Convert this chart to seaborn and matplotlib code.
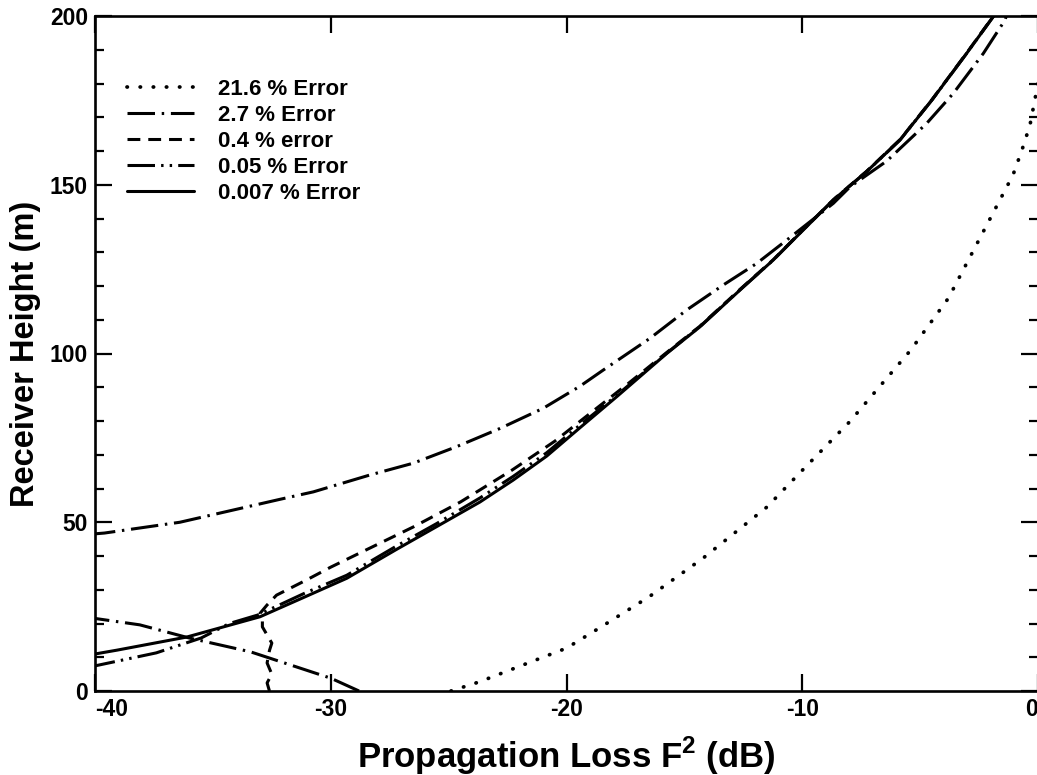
import matplotlib
matplotlib.use("Agg")
import matplotlib.pyplot as plt
import seaborn as sns
import pandas as pd

# ---------------- data ----------------
labels = ["21.6 % Error", "2.7 % Error", "0.4 % error", "0.05 % Error", "0.007 % Error"]

err216_x = [-24.9, -23.7, -21.85, -20.0, -18.6, -16.5, -14.2, -11.5, -9.9, -8.0, -5.4, -3.8, -1.06, -0.68, -0.34, 0.0]
err216_y = [0.0, 2.7, 7.7, 12.7, 18.7, 27.9, 39.4, 54.5, 66.1, 79.7, 101.0, 116.4, 152.9, 160.3, 167.7, 180.0]

err27_low_x = [-28.8, -30.0, -31.7, -33.4, -36.0, -38.1, -40.3]
err27_low_y = [0.0, 3.8, 7.7, 11.6, 15.7, 19.6, 21.8]
err27_x = [-40.3, -39.6, -36.4, -32.15, -30.74, -28.34, -26.5, -24.66, -22.82, -20.98, -19.43, -18.44,
           -16.46, -14.9, -13.35, -11.93, -10.66, -8.68, -7.97, -6.42, -4.72, -3.59, -2.32, -1.40, -1.3]
err27_y = [46.4, 46.8, 50.0, 56.8, 59.0, 64.0, 67.5, 72.4, 77.8, 83.8, 90.3, 95.1,
           104.5, 112.9, 120.3, 126.7, 133.6, 144.5, 149.4, 157.0, 168.2, 177.1, 188.9, 198.8, 201.0]

err0007_x = [-40.3, -39.07, -36.1, -33.0, -31.09, -29.32, -27.2, -25.51, -23.67, -22.26, -20.84, -19.43,
             -17.87, -15.75, -14.34, -12.64, -11.23, -10.1, -8.68, -7.27, -5.85, -4.5, -3.03, -1.9, -1.8]
err0007_y = [10.6, 12.1, 16.0, 22.0, 27.9, 33.4, 42.0, 48.7, 56.0, 62.5, 69.6, 78.0,
             87.2, 100.0, 107.9, 118.8, 127.7, 135.6, 145.5, 153.9, 163.3, 175.1, 188.9, 199.8, 201.0]

err04_x = [-32.6, -32.7, -32.5, -32.7, -32.6, -32.5, -32.9, -32.9, -33.0, -32.7, -32.3, -31.0, -30.0, -28.5,
           -26.5, -24.5, -22.3, -20.5, -18.7, -17.4, -15.75, -14.34, -12.64, -11.23, -10.1, -8.68, -7.27,
           -5.85, -4.5, -3.03, -1.9, -1.8]
err04_y = [0.0, 2.4, 5.0, 8.3, 12.0, 14.2, 19.0, 21.0, 23.0, 25.5, 28.4, 33.0, 36.7, 41.8,
           48.6, 56.0, 65.5, 74.0, 83.9, 91.0, 100.3, 108.1, 119.0, 127.8, 135.7, 145.6, 154.0,
           163.4, 175.2, 189.0, 199.9, 201.0]

err005_x = [-40.3, -37.4, -35.5, -34.3, -33.1, -31.1, -29.32, -27.2, -25.51, -23.67, -22.26, -20.84, -19.43,
            -17.87, -15.75, -14.34, -12.64, -11.23, -10.1, -8.68, -7.27, -5.85, -4.5, -3.03, -1.9, -1.8]
err005_y = [7.0, 11.3, 15.7, 20.0, 22.5, 29.0, 34.3, 43.0, 49.6, 57.2, 63.6, 70.6, 78.8,
            87.6, 100.1, 108.0, 118.9, 127.7, 135.7, 145.5, 153.9, 163.3, 175.1, 188.9, 199.8, 201.0]

x_ticks = [-40, -30, -20, -10, 0]
x_ticklabels = ["-40", "-30", "-20", "-10", "0"]
y_ticks = [0, 50, 100, 150, 200]
y_ticklabels = ["0", "50", "100", "150", "200"]

# ---------------- styling ----------------
sns.set_theme(style="ticks")
plt.rcParams["font.family"] = ["Liberation Sans", "DejaVu Sans"]
plt.rcParams["font.weight"] = "bold"
plt.rcParams["text.color"] = "black"
plt.rcParams["axes.labelcolor"] = "black"
plt.rcParams["xtick.color"] = "black"
plt.rcParams["ytick.color"] = "black"
plt.rcParams["mathtext.fontset"] = "custom"
plt.rcParams["mathtext.rm"] = "Liberation Sans:bold"
plt.rcParams["mathtext.bf"] = "Liberation Sans:bold"

fig = plt.figure(figsize=(10.37, 7.75), dpi=100)
W, H = 1037.0, 775.0
ax = fig.add_axes([95 / W, (H - 691) / H, (1038 - 95) / W, (691 - 16) / H])

styles = [
    (0, (0.1, 3.4)),          # dotted
    (0, (9, 2.2, 0.8, 2.2)),  # long dash - dot
    (0, (4.2, 2.6)),          # dashed
    (0, (9, 2.0, 0.8, 2.0, 0.8, 2.0)),  # dash-dot-dot
    "-",
]

series = [
    [(err216_x, err216_y)],
    [(err27_low_x, err27_low_y), (err27_x, err27_y)],
    [(err04_x, err04_y)],
    [(err005_x, err005_y)],
    [(err0007_x, err0007_y)],
]

handles = []
for lab, segs, ls in zip(labels, series, styles):
    for i, (xs, ys) in enumerate(segs):
        df = pd.DataFrame({"x": xs, "y": ys})
        n_before = len(ax.get_lines())
        sns.lineplot(data=df, x="x", y="y", orient="y", estimator=None, sort=True,
                     color="black", linewidth=2.2, ax=ax, legend=False)
        line = ax.get_lines()[n_before]
        line.set_linestyle(ls)
        line.set_solid_joinstyle("round")
        if ls == styles[0]:
            line.set_dash_capstyle("round")
            line.set_linewidth(2.7)
        else:
            line.set_dash_capstyle("butt")
        if i == 0:
            line.set_label(lab)
            handles.append(line)

ax.set_xlim(-40, 0)
ax.set_ylim(0, 200)
ax.set_xticks(x_ticks)
xt = ax.set_xticklabels(x_ticklabels, fontsize=16.5, fontweight="bold")
xt[0].set_horizontalalignment("left")
xt[-1].set_horizontalalignment("right")
ax.set_yticks(y_ticks)
ax.set_yticklabels(y_ticklabels, fontsize=16.5, fontweight="bold")
ax.set_yticks(range(0, 201, 10), minor=True)

ax.tick_params(axis="both", which="major", direction="in", length=12.5, width=1.6,
               top=True, right=True, pad=5, colors="black")
ax.tick_params(axis="y", which="minor", direction="in", length=6.5, width=1.6,
               left=True, right=True, colors="black")
ax.tick_params(axis="x", which="minor", bottom=False, top=False)

for sp in ax.spines.values():
    sp.set_linewidth(1.9)
    sp.set_color("black")
    sp.set_visible(True)

ax.set_xlabel(r"Propagation Loss F$^\mathbf{2}$ (dB)", fontsize=25, fontweight="bold",
              labelpad=10, color="black")
ax.set_ylabel("Receiver Height (m)", fontsize=23.5, fontweight="bold", labelpad=6, color="black")

leg = ax.legend(handles=handles, labels=labels, loc="upper left",
                bbox_to_anchor=((127 - 95) / 943.0, 1 - (79 - 16) / 675.0),
                frameon=False, borderpad=0, borderaxespad=0,
                handlelength=3.0, handletextpad=1.1, labelspacing=0.22,
                prop={"family": "Liberation Sans", "weight": "bold", "size": 16})
for t in leg.get_texts():
    t.set_color("black")

fig.savefig("out.png", dpi=100, facecolor="white")
